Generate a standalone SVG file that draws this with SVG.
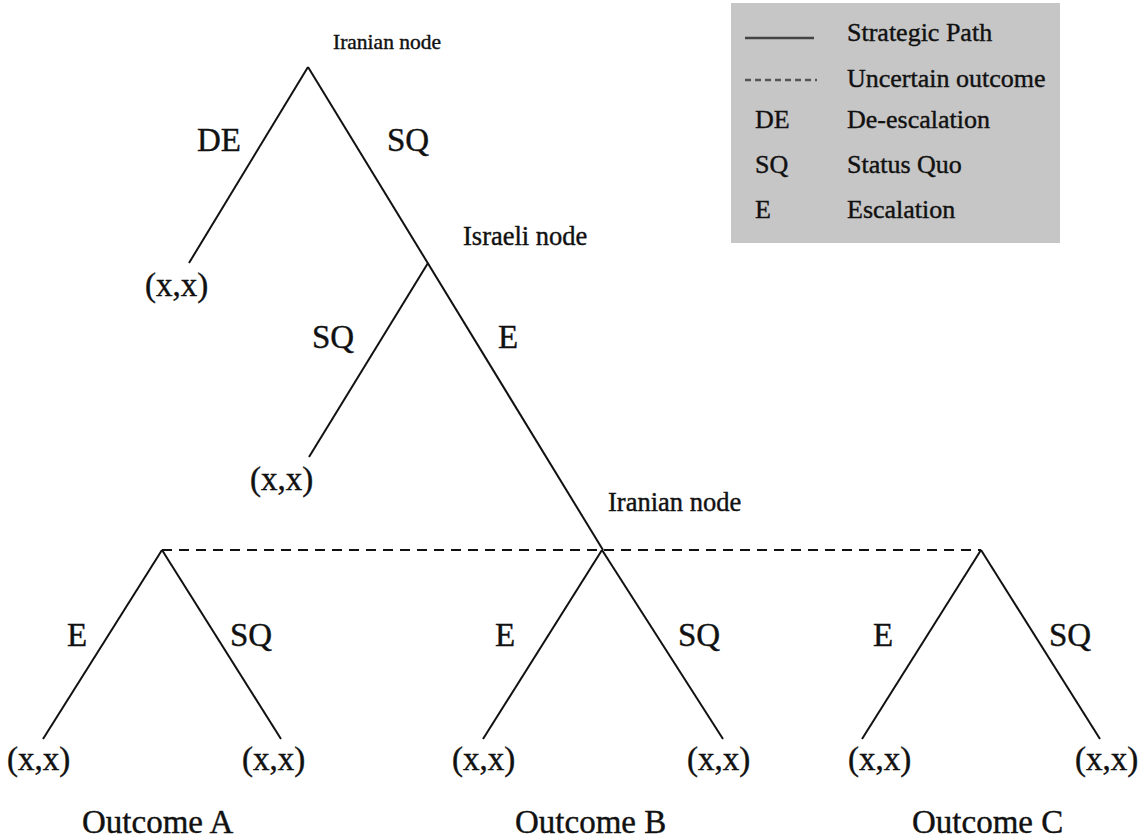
<svg xmlns="http://www.w3.org/2000/svg" width="1140" height="839" viewBox="0 0 1140 839">
<style>
text{font-family:"Liberation Serif","Times New Roman",serif;fill:#111;stroke:#111;stroke-width:0.4}
.lbl{font-size:33px}
.nd{font-size:26.5px}
.lg{font-size:26px}
.edge{stroke:#111;stroke-width:2;fill:none}
.dash{stroke:#111;stroke-width:2;stroke-dasharray:10 7;fill:none}
</style>
<rect width="1140" height="839" fill="#fff"/>
<g id="legend">
<rect x="731" y="3" width="329" height="240" fill="#c6c6c6"/>
<line x1="745" y1="38" x2="814" y2="38" stroke="#444" stroke-width="2.5"/>
<line x1="745" y1="80" x2="817" y2="80" stroke="#555" stroke-width="2.5" stroke-dasharray="6 4"/>
<text class="lg" x="847" y="41">Strategic Path</text>
<text class="lg" x="847" y="87">Uncertain outcome</text>
<text class="lg" x="755" y="128">DE</text>
<text class="lg" x="847" y="128">De-escalation</text>
<text class="lg" x="755" y="173">SQ</text>
<text class="lg" x="847" y="173">Status Quo</text>
<text class="lg" x="755" y="218">E</text>
<text class="lg" x="847" y="218">Escalation</text>
</g>
<g id="connectors">
<line class="edge" x1="308" y1="67" x2="189" y2="263"/>
<line class="edge" x1="308" y1="67" x2="603" y2="550"/>
<line class="edge" x1="428" y1="263" x2="309" y2="457"/>
<line class="dash" x1="162" y1="550" x2="981" y2="550"/>
<line class="edge" x1="162" y1="550" x2="43" y2="739"/>
<line class="edge" x1="162" y1="550" x2="281" y2="739"/>
<line class="edge" x1="602" y1="550" x2="483" y2="739"/>
<line class="edge" x1="602" y1="550" x2="723" y2="739"/>
<line class="edge" x1="981" y1="550" x2="862" y2="739"/>
<line class="edge" x1="981" y1="550" x2="1100" y2="739"/>
<text class="lbl" x="197" y="151">DE</text>
<text class="lbl" x="387" y="151">SQ</text>
<text class="lbl" x="312" y="348">SQ</text>
<text class="lbl" x="498" y="348">E</text>
<text class="lbl" x="67" y="646">E</text>
<text class="lbl" x="230" y="646">SQ</text>
<text class="lbl" x="495" y="646">E</text>
<text class="lbl" x="678" y="646">SQ</text>
<text class="lbl" x="873" y="646">E</text>
<text class="lbl" x="1049" y="646">SQ</text>
</g>
<g id="node-iranian-top"><text x="333" y="49" style="font-size:21.5px">Iranian node</text></g>
<g id="node-israeli"><text class="nd" x="463" y="245">Israeli node</text></g>
<g id="node-iranian-lower"><text class="nd" x="608" y="511">Iranian node</text></g>
<g id="payoff-1"><text class="lbl" x="145" y="296">(x,x)</text></g>
<g id="payoff-2"><text class="lbl" x="250" y="490">(x,x)</text></g>
<g id="payoff-a1"><text class="lbl" x="7" y="770">(x,x)</text></g>
<g id="payoff-a2"><text class="lbl" x="242" y="770">(x,x)</text></g>
<g id="payoff-b1"><text class="lbl" x="452" y="770">(x,x)</text></g>
<g id="payoff-b2"><text class="lbl" x="687" y="770">(x,x)</text></g>
<g id="payoff-c1"><text class="lbl" x="848" y="770">(x,x)</text></g>
<g id="payoff-c2"><text class="lbl" x="1075" y="770">(x,x)</text></g>
<g id="outcome-a"><text class="lbl" x="82" y="833">Outcome A</text></g>
<g id="outcome-b"><text class="lbl" x="515" y="833">Outcome B</text></g>
<g id="outcome-c"><text class="lbl" x="912" y="833">Outcome C</text></g>
</svg>
